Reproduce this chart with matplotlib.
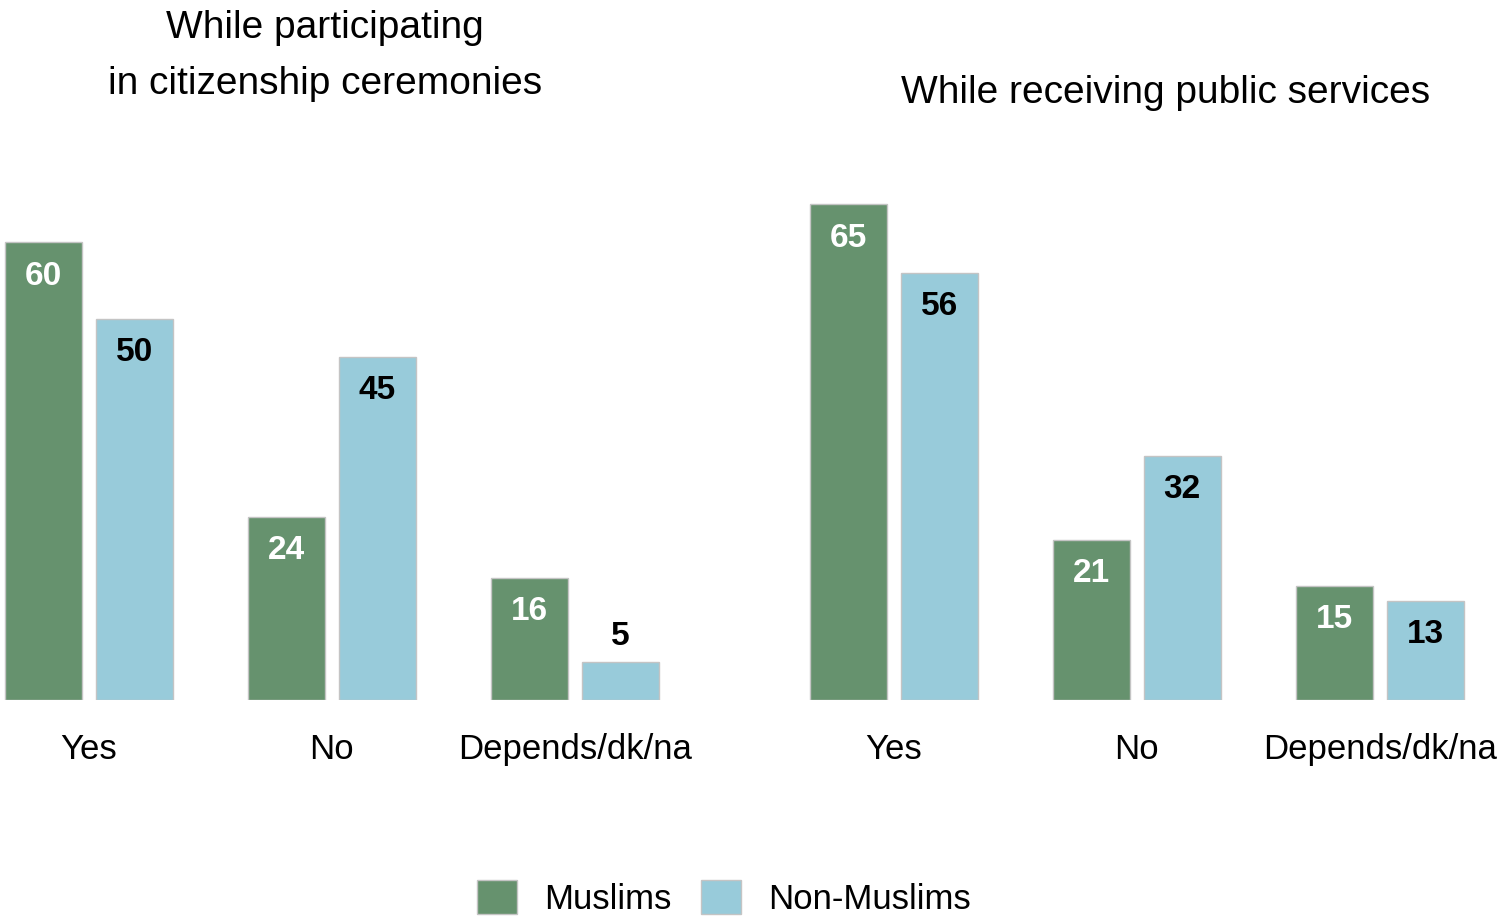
import numpy as np
import matplotlib.pyplot as plt

plt.rcParams['font.family'] = ['Liberation Sans Narrow', 'Liberation Sans', 'DejaVu Sans']

categories = ['Yes', 'No', 'Depends/dk/na']
groups = ['Muslims', 'Non-Muslims']
ceremony_muslims = [60, 24, 16]
ceremony_non_muslims = [50, 45, 5]
services_muslims = [65, 21, 15]
services_non_muslims = [56, 32, 13]
panel_titles = ['While participating\nin citizenship ceremonies',
                'While receiving public services']

green = '#66926e'
blue = '#98cbda'
edge = '#c4c4c4'

W, H = 1499, 919
fig = plt.figure(figsize=(W / 100, H / 100), dpi=100)

bottom = (H - 700) / H
height = 534 / H
width = 672 / W
ax1 = fig.add_axes([0, bottom, width, height])
ax2 = fig.add_axes([805 / W, bottom, width, height])

x = np.arange(len(categories))
bw = 0.317
off = 0.187


def label_bars(ax, bars, values, color):
    for b, v in zip(bars, values):
        cx = b.get_x() + b.get_width() / 2
        if v >= 8:
            ax.annotate(str(v), (cx, v), xytext=(0, -24.5), textcoords='offset points',
                        ha='center', va='center', fontsize=24, fontweight='bold',
                        color=color)
        else:
            ax.annotate(str(v), (cx, v), xytext=(0, 18), textcoords='offset points',
                        ha='center', va='center', fontsize=24, fontweight='bold',
                        color='black')


for ax, m, n in [(ax1, ceremony_muslims, ceremony_non_muslims),
                 (ax2, services_muslims, services_non_muslims)]:
    b1 = ax.bar(x - off, m, bw, color=green, edgecolor=edge, linewidth=1, label=groups[0])
    b2 = ax.bar(x + off, n, bw, color=blue, edgecolor=edge, linewidth=1, label=groups[1])
    label_bars(ax, b1, m, 'white')
    label_bars(ax, b2, n, 'black')
    ax.set_xlim(-0.366, 2.4)
    ax.set_ylim(0, 70)
    ax.set_xticks(x)
    ax.set_xticklabels(categories, fontsize=25)
    ax.tick_params(axis='x', length=0, pad=24)
    ax.set_yticks([])
    for s in ax.spines.values():
        s.set_visible(False)
    ax.patch.set_alpha(0)

fig.text(325 / W, 1 - 56 / H, panel_titles[0], ha='center', va='center',
         fontsize=28, linespacing=1.75)
fig.text(1166 / W, 1 - 93 / H, panel_titles[1], ha='center', va='center', fontsize=28)

handles, labels = ax1.get_legend_handles_labels()
fig.legend(handles, labels, loc='center', bbox_to_anchor=(724 / W, 1 - 898 / H),
           ncol=2, frameon=False, fontsize=25, handlelength=1.15, handleheight=1.15,
           handletextpad=0.78, columnspacing=0.86)

fig.savefig('out.png', dpi=100)
